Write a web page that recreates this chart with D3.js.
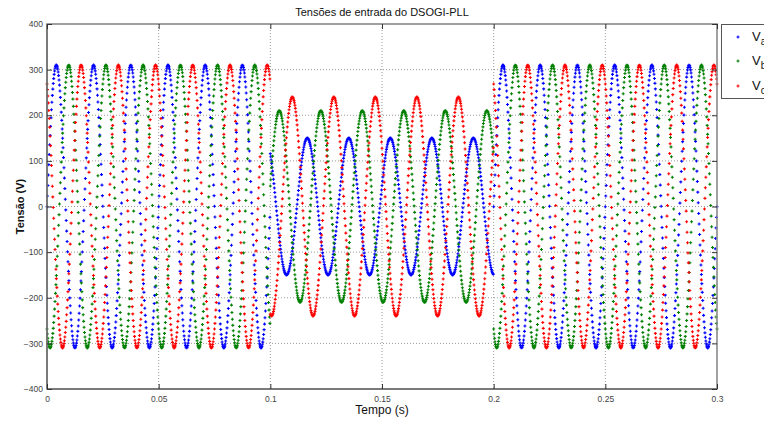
<!DOCTYPE html>
<html>
<head>
<meta charset="utf-8">
<script src="https://cdn.jsdelivr.net/npm/d3@7"></script>
<style>
  html, body { margin: 0; padding: 0; background: #fff; }
  svg { display: block; font-family: "Liberation Sans", Arial, sans-serif; }
</style>
</head>
<body>
<svg id="chart" width="764" height="421"></svg>
<script>
// ---------------- data ----------------
const seriesNames = ["a", "b", "c"];
const seriesColors = ["#0000ff", "#008000", "#ff0000"];
const sampleStep = 0.0002;            // s, spacing between plotted samples
const timeStart = 0, timeEnd = 0.3;
// three segments: normal, sag, normal
const segmentStart = [0, 0.1, 0.2];
const segmentEnd = [0.1, 0.2, 0.3];
const segmentFreq = [60, 53.8, 60];      // Hz
const amplitudeA = [310, 150, 310];      // V
const amplitudeB = [310, 210, 310];
const amplitudeC = [310, 240, 310];
const peakTimeA = [0.00417, 0.11655, 0.00417]; // time of a crest in each segment (s)
const peakTimeB = [0.00972, 0.10401, 0.00972];
const peakTimeC = [0.01528, 0.10984, 0.01528];
const xTicks = [0, 0.05, 0.1, 0.15, 0.2, 0.25, 0.3];
const xTickLabels = ["0", "0.05", "0.1", "0.15", "0.2", "0.25", "0.3"];
const yTicks = [-400, -300, -200, -100, 0, 100, 200, 300, 400];

// ---------------- build samples ----------------
const amps = [amplitudeA, amplitudeB, amplitudeC];
const peaks = [peakTimeA, peakTimeB, peakTimeC];
const nSamples = Math.round((timeEnd - timeStart) / sampleStep);
const series = seriesNames.map((n, si) => {
  const pts = [];
  for (let i = 0; i <= nSamples; i++) {
    const t = timeStart + i * sampleStep;
    let k = segmentStart.findIndex((s, j) => t >= s - 1e-9 && t < segmentEnd[j] - 1e-9);
    if (k < 0) k = segmentStart.length - 1;
    const v = amps[si][k] * Math.cos(2 * Math.PI * segmentFreq[k] * (t - peaks[si][k]));
    pts.push([t, v]);
  }
  return { name: n, color: seriesColors[si], pts };
});

// ---------------- layout ----------------
const svg = d3.select("#chart");
const L = 47, R = 717, T = 24, B = 389;
const x = d3.scaleLinear().domain([0, 0.3]).range([L, R]);
const y = d3.scaleLinear().domain([-400, 400]).range([B, T]);

// grid
const grid = svg.append("g");
xTicks.slice(1, -1).forEach(v => {
  grid.append("line").attr("x1", x(v)).attr("x2", x(v)).attr("y1", T).attr("y2", B)
    .attr("stroke", "#9a9a9a").attr("stroke-width", 1).attr("stroke-dasharray", "1,2");
});
yTicks.slice(1, -1).forEach(v => {
  grid.append("line").attr("x1", L).attr("x2", R).attr("y1", y(v)).attr("y2", y(v))
    .attr("stroke", "#9a9a9a").attr("stroke-width", 1).attr("stroke-dasharray", "1,2");
});

// data markers
const plot = svg.append("g");
series.forEach(s => {
  let d = "";
  s.pts.forEach(([t, v]) => {
    const px = x(t), py = y(v);
    d += `M${(px - 1.5).toFixed(2)},${py.toFixed(2)}h3M${px.toFixed(2)},${(py - 1.5).toFixed(2)}v3`;
  });
  plot.append("path").attr("d", d).attr("stroke", s.color).attr("stroke-width", 1.1).attr("fill", "none");
});

// box
svg.append("rect").attr("x", L).attr("y", T).attr("width", R - L).attr("height", B - T)
  .attr("fill", "none").attr("stroke", "#8a8a8a").attr("stroke-width", 1.6);
svg.append("line").attr("x1", L).attr("x2", L).attr("y1", T).attr("y2", B).attr("stroke", "#555").attr("stroke-width", 1);
svg.append("line").attr("x1", L).attr("x2", R).attr("y1", B).attr("y2", B).attr("stroke", "#555").attr("stroke-width", 1);

// axes with inward ticks
const xAxisB = d3.axisBottom(x).tickValues(xTicks).tickFormat((d, i) => xTickLabels[i]).tickSize(-5).tickPadding(7);
const gx = svg.append("g").attr("transform", `translate(0,${B})`).call(xAxisB);
const yAxisL = d3.axisLeft(y).tickValues(yTicks).tickFormat(d3.format("d")).tickSize(-5).tickPadding(4);
const gy = svg.append("g").attr("transform", `translate(${L},0)`).call(yAxisL);
const xAxisT = d3.axisTop(x).tickValues(xTicks).tickFormat("").tickSize(-5);
const gxt = svg.append("g").attr("transform", `translate(0,${T})`).call(xAxisT);
const yAxisR = d3.axisRight(y).tickValues(yTicks).tickFormat("").tickSize(-5);
const gyr = svg.append("g").attr("transform", `translate(${R},0)`).call(yAxisR);
[gx, gy, gxt, gyr].forEach(g => {
  g.select(".domain").remove();
  g.selectAll(".tick line").attr("stroke", "#333").attr("stroke-width", 1);
  g.selectAll("text").attr("fill", "#444").attr("font-size", "8.5px")
    .attr("font-family", "'Liberation Sans', Arial, sans-serif");
});

// titles
svg.append("text").attr("x", 382).attr("y", 16).attr("text-anchor", "middle")
  .attr("font-size", "11px").attr("fill", "#111").text("Tensões de entrada do DSOGI-PLL");
svg.append("text").attr("x", 382).attr("y", 414).attr("text-anchor", "middle")
  .attr("font-size", "12px").attr("fill", "#111").text("Tempo (s)");
svg.append("text").attr("transform", `translate(24,${(T + B) / 2}) rotate(-90)`).attr("text-anchor", "middle")
  .attr("font-size", "11px").attr("font-weight", "bold").attr("fill", "#111").text("Tensão (V)");

// legend
const lg = svg.append("g");
lg.append("rect").attr("x", 721.5).attr("y", 24.5).attr("width", 80).attr("height", 74)
  .attr("fill", "#fff").attr("stroke", "#555").attr("stroke-width", 1);
const legendY = [37, 61, 86];
series.forEach((s, i) => {
  const cy = legendY[i];
  lg.append("path").attr("d", `M736.5,${cy}h3M738,${cy - 1.5}v3`).attr("stroke", s.color).attr("stroke-width", 1.1);
  const t = lg.append("text").attr("x", 752).attr("y", cy + 4).attr("font-size", "13px").attr("fill", "#111");
  t.append("tspan").text("V");
  t.append("tspan").attr("dy", 4).attr("font-size", "10px").text(s.name);
});
</script>
</body>
</html>
